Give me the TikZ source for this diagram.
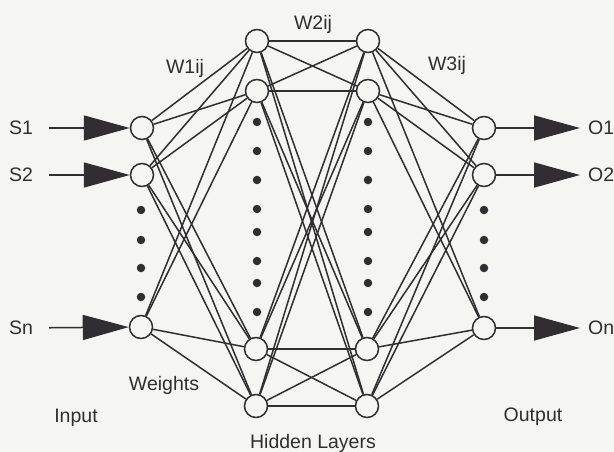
\documentclass[tikz,border=0pt]{standalone}
\usepackage{fontspec}
\setmainfont{Liberation Sans}
\usetikzlibrary{arrows.meta}
\definecolor{ink}{RGB}{48,46,48}
\definecolor{paper}{RGB}{245,245,243}
\begin{document}
\begin{tikzpicture}[x=1pt,y=-1pt,
  neuron/.style={circle,draw=ink,line width=1.5pt,fill=paper,minimum size=23pt,inner sep=0pt},
  link/.style={draw=ink,line width=1.5pt},
  dotmark/.style={circle,fill=ink,minimum size=8.5pt,inner sep=0pt},
  lbl/.style={text=ink,font=\fontsize{19.5}{22}\selectfont,inner sep=0pt},
  feed/.style={draw=ink,line width=1.5pt,-{Triangle[length=46pt,width=25pt]}}]
\fill[paper] (0,0) rectangle (614,452);
\useasboundingbox (0,0) rectangle (614,452);
% neurons
\node[neuron] (i1) at (142,128) {};
\node[neuron] (i2) at (142,175) {};
\node[neuron] (i3) at (141,327) {};
\node[neuron] (h1) at (257,41) {};
\node[neuron] (h2) at (257,91) {};
\node[neuron] (h3) at (256,349) {};
\node[neuron] (h4) at (256,406) {};
\node[neuron] (g1) at (368,41) {};
\node[neuron] (g2) at (368,91) {};
\node[neuron] (g3) at (367,349) {};
\node[neuron] (g4) at (367,406) {};
\node[neuron] (o1) at (484,128) {};
\node[neuron] (o2) at (484,175) {};
\node[neuron] (o3) at (484,328) {};
% connections
\foreach \a in {i1,i2,i3}{\foreach \b in {h1,h2,h3,h4}{\draw[link] (\a) -- (\b);}}
\foreach \a in {h1,h2,h3,h4}{\foreach \b in {g1,g2,g3,g4}{\draw[link] (\a) -- (\b);}}
\foreach \a in {g1,g2,g3,g4}{\foreach \b in {o1,o2,o3}{\draw[link] (\a) -- (\b);}}
% dots
\foreach \y [count=\k] in {210,240,268,297}{
  \node[dotmark] (di\k) at (141,\y) {};
  \node[dotmark] (do\k) at (484,\y) {};}
\foreach \y [count=\k] in {122,151,180,209,232,261,283,312}{
  \node[dotmark] (dh\k) at (257,\y) {};
  \node[dotmark] (dg\k) at (368,\y) {};}
% inputs and outputs
\node[lbl] (S1) at (21,128) {S1};
\node[lbl] (S2) at (21,175) {S2};
\node[lbl] (Sn) at (21,328) {Sn};
\node[lbl,anchor=west] (O1) at (588,128) {O1};
\node[lbl,anchor=west] (O2) at (588,175) {O2};
\node[lbl,anchor=west] (On) at (588,328) {On};
\draw[feed,shorten <=16pt] (S1) -- (i1);
\draw[feed,shorten <=16pt] (S2) -- (i2);
\draw[feed,shorten <=16pt] (Sn) -- (i3);
\draw[feed,shorten >=8pt] (o1) -- (O1);
\draw[feed,shorten >=8pt] (o2) -- (O2);
\draw[feed,shorten >=8pt] (o3) -- (On);
% labels
\node[lbl] (w1) at (185,68) {W1ij};
\node[lbl] (w2) at (313,24) {W2ij};
\node[lbl] (w3) at (447,65) {W3ij};
\node[lbl] (wts) at (164,385) {Weights};
\node[lbl] (inp) at (76,418) {Input};
\node[lbl] (outp) at (533,417) {Output};
\node[lbl] (hid) at (313,443) {Hidden Layers};
\end{tikzpicture}
\end{document}
